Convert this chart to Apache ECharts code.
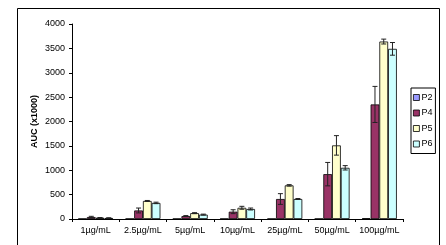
<!DOCTYPE html>
<html><head><meta charset="utf-8">
<script src="https://cdn.jsdelivr.net/npm/echarts@6/dist/echarts.min.js"></script>
<style>html,body{margin:0;padding:0;background:#fff}#c{width:446px;height:245px}</style>
</head><body><div id="c"></div>
<script>
var categories = ['1µg/mL','2.5µg/mL','5µg/mL','10µg/mL','25µg/mL','50µg/mL','100µg/mL'];
var seriesNames = ['P2','P4','P5','P6'];
var P2 = [5, 5, 5, 5, 5, 5, 15];
var P4 = [40, 175, 60, 150, 410, 920, 2350];
var P5 = [25, 370, 120, 230, 690, 1510, 3640];
var P6 = [20, 330, 90, 205, 410, 1050, 3490];
var P2err = [0, 0, 0, 0, 0, 0, 0];
var P4err = [15, 50, 10, 40, 110, 240, 370];
var P5err = [5, 10, 10, 30, 15, 200, 50];
var P6err = [5, 15, 10, 20, 10, 45, 130];
var yTicks = [0, 500, 1000, 1500, 2000, 2500, 3000, 3500, 4000];

var values = [P2, P4, P5, P6];
var errs = [P2err, P4err, P5err, P6err];
var colors = ['#9999FF', '#993366', '#FFFFCC', '#CCFFFF'];
var catGap = 0.26;
var font = 'Liberation Sans, Arial, sans-serif';

var series = [];
values.forEach(function (vals, k) {
  series.push({
    name: seriesNames[k], type: 'bar', data: vals, barGap: '0%', barCategoryGap: (catGap*100)+'%',
    itemStyle: { color: colors[k], borderColor: '#000', borderWidth: 0.8 }, silent: true
  });
});
errs.forEach(function (er, k) {
  var d = er.map(function (e, i) { return [i, values[k][i], e]; }).filter(function (d) { return d[2] > 0; });
  series.push({
    type: 'custom', data: d, silent: true, z: 5,
    renderItem: function (params, api) {
      var ci = api.value(0), v = api.value(1), e = api.value(2);
      var band = api.size([1, 0])[0];
      var bw = band * (1 - catGap) / 4;
      var c = api.coord([ci, v]);
      var x = c[0] + (k - 1.5) * bw;
      var t = api.coord([ci, v + e])[1], b = api.coord([ci, v - e])[1];
      var cap = 2.5;
      var st = { stroke: '#222', lineWidth: 1 };
      return { type: 'group', children: [
        { type: 'line', shape: { x1: x, y1: t, x2: x, y2: b }, style: st },
        { type: 'line', shape: { x1: x - cap, y1: t, x2: x + cap, y2: t }, style: st },
        { type: 'line', shape: { x1: x - cap, y1: b, x2: x + cap, y2: b }, style: st }
      ]};
    }
  });
});

var chart = echarts.init(document.getElementById('c'), null, { renderer: 'canvas' });
chart.setOption({
  animation: false,
  backgroundColor: '#fff',
  graphic: [{ type: 'rect', shape: { x: 17.5, y: 8.5, width: 422, height: 260 }, style: { fill: 'none', stroke: '#000', lineWidth: 1 }, silent: true }],
  grid: { left: 72, right: 43, top: 24, bottom: 26, containLabel: false },
  legend: {
    orient: 'vertical', left: 411, top: 88, data: seriesNames,
    itemWidth: 6, itemHeight: 6, itemGap: 6.5,
    padding: [5, 3, 5, 2], borderColor: '#000', borderWidth: 1,
    textStyle: { fontFamily: font, fontSize: 9, color: '#000', lineHeight: 9, padding: [0, 0, 0, -3] },
    itemStyle: { borderColor: '#000', borderWidth: 0.8 },
    icon: 'rect'
  },
  xAxis: {
    type: 'category', data: categories,
    axisLine: { lineStyle: { color: '#000', width: 1 } },
    axisTick: { show: true, length: 3, lineStyle: { color: '#000' } },
    axisLabel: { fontFamily: font, fontSize: 9, color: '#000', margin: 7, interval: 0 }
  },
  yAxis: {
    type: 'value', min: 0, max: 4000, interval: 500,
    name: 'AUC (x1000)', nameLocation: 'middle', nameGap: 33, nameMoveOverlap: false,
    nameTextStyle: { fontFamily: font, fontSize: 9, fontWeight: 'bold', color: '#000' },
    axisLine: { show: true, lineStyle: { color: '#000', width: 1 } },
    axisTick: { show: true, length: 3, lineStyle: { color: '#000' } },
    splitLine: { show: false },
    axisLabel: { fontFamily: font, fontSize: 9, color: '#000', margin: 7,
      formatter: function (v) { return yTicks.indexOf(v) >= 0 ? String(v) : ''; } }
  },
  series: series
});
</script></body></html>
